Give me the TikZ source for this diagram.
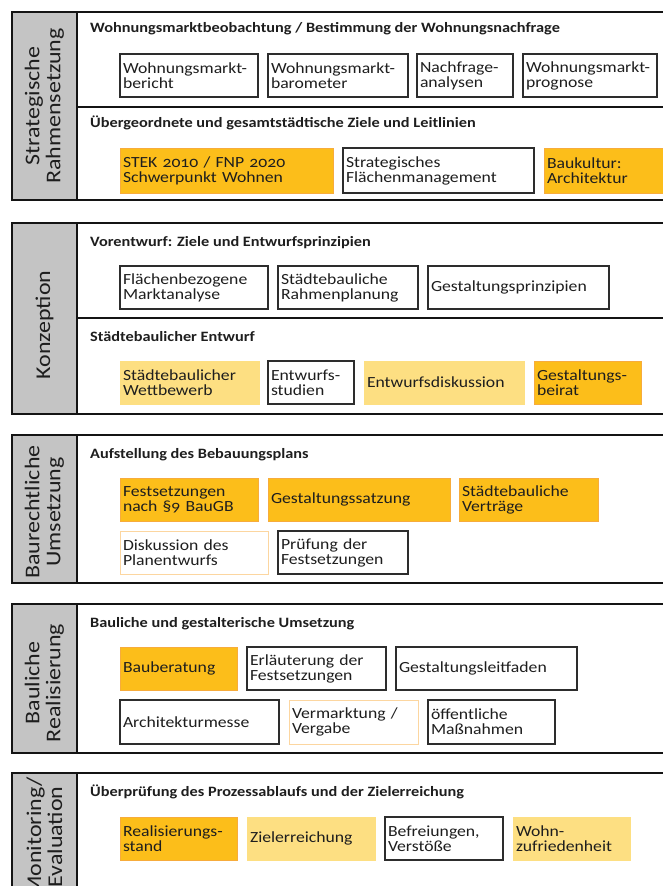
\documentclass[tikz,border=0pt]{standalone}
\usepackage{fontspec}
\newfontfamily\dfont{Carlito}[FakeStretch=1.14, Numbers=OldStyle]
\definecolor{colgray}{RGB}{196,196,196}
\definecolor{framec}{RGB}{20,20,20}
\definecolor{boxline}{RGB}{45,45,45}
\definecolor{textc}{RGB}{30,30,30}
\definecolor{orangeF}{RGB}{252,190,26}
\definecolor{orangeE}{RGB}{247,172,60}
\definecolor{yellowF}{RGB}{253,223,130}
\definecolor{paleE}{RGB}{252,214,160}

% box with its corners given in pixel units: name, style, x1, y1, x2, y2, text
\newcommand{\bx}[7]{%
  \pgfmathsetmacro{\bxw}{#5-#3}%
  \pgfmathsetmacro{\bxh}{#6-#4}%
  \pgfmathsetmacro{\bxt}{#5-#3-6}%
  \node[#2, anchor=north west, minimum width=\bxw pt, minimum height=\bxh pt,
        text width=\bxt pt] (#1) at (#3,#4) {#7};}

\begin{document}
\begin{tikzpicture}[x=1pt, y=-1pt,
  frame/.style={draw=framec, line width=2.8pt},
  divider/.style={draw=framec, line width=2.4pt},
  column/.style={fill=colgray},
  sidelabel/.style={rotate=90, align=center, inner sep=0pt, text=textc,
    font={\dfont\fontsize{21}{21}\selectfont}},
  head/.style={anchor=base west, inner sep=0pt, text=textc,
    font={\dfont\bfseries\fontsize{14.3}{16}\selectfont}},
  basebox/.style={inner xsep=3pt, inner ysep=0pt, outer sep=0pt, align=left,
    text=textc, font={\dfont\fontsize{15.5}{15}\selectfont}},
  box/.style={basebox, draw=boxline, line width=1.2pt, fill=white},
  obox/.style={basebox, draw=orangeE, line width=0.8pt, fill=orangeF},
  ybox/.style={basebox, draw=yellowF, line width=0.8pt, fill=yellowF},
  pbox/.style={basebox, draw=paleE, line width=1pt, fill=white},
]
\useasboundingbox (0,0) rectangle (663,886);
\clip (0,0) rectangle (663,886);
\fill[white] (0,0) rectangle (663,886);

% ---- panel frames -------------------------------------------------------
\foreach \t/\b in {12/200, 223/414, 435/583, 604/753, 773/903}{
  \fill[column] (12,\t) rectangle (77,\b);
  \draw[frame] (12,\t) rectangle (667,\b);
  \draw[frame] (77,\t) -- (77,\b);
}
\draw[divider] (77,107) -- (667,107);
\draw[divider] (77,318) -- (667,318);

% ---- phase labels ------------------------------------------------------
\node[sidelabel] (lab1) at (44.5,106) {Strategische\\Rahmensetzung};
\node[sidelabel] (lab2) at (44.5,325) {Konzeption};
\node[sidelabel] (lab3) at (44.5,512) {Baurechtliche\\Umsetzung};
\node[sidelabel] (lab4) at (44.5,683) {Bauliche\\Realisierung};
\node[sidelabel] (lab5) at (44.5,837) {Monitoring/\\Evaluation};

% ---- section headings ----------------------------------------------------
\node[head] (h1) at (90,32) {Wohnungsmarktbeobachtung / Bestimmung der Wohnungsnachfrage};
\node[head] (h2) at (90,127) {Übergeordnete und gesamtstädtische Ziele und Leitlinien};
\node[head] (h3) at (90,246) {Vorentwurf: Ziele und Entwurfsprinzipien};
\node[head] (h4) at (90,341) {Städtebaulicher Entwurf};
\node[head] (h5) at (90,458) {Aufstellung des Bebauungsplans};
\node[head] (h6) at (90,627) {Bauliche und gestalterische Umsetzung};
\node[head] (h7) at (90,796) {Überprüfung des Prozessablaufs und der Zielerreichung};

% ---- Strategische Rahmensetzung ------------------------------------------
\bx{b11}{box}{120}{54}{258}{97}{Wohnungsmarkt-\\bericht}
\bx{b12}{box}{268}{54}{408}{97}{Wohnungsmarkt-\\barometer}
\bx{b13}{box}{417}{54}{513}{97}{Nachfrage-\\analysen}
\bx{b14}{box}{523}{54}{657}{97}{Wohnungsmarkt-\\prognose}
\bx{b21}{obox}{120}{148}{333}{193}{STEK 2010 / FNP 2020\\Schwerpunkt Wohnen}
\bx{b22}{box}{343}{148}{534}{193}{Strategisches\\Flächenmanagement}
\bx{b23}{obox}{544}{148}{667}{193}{Baukultur:\\Architektur}

% ---- Konzeption ----------------------------------------------------------
\bx{c11}{box}{120}{266}{268}{309}{Flächenbezogene\\Marktanalyse}
\bx{c12}{box}{278}{266}{418}{309}{Städtebauliche\\Rahmenplanung}
\bx{c13}{box}{428}{266}{609}{309}{Gestaltungsprinzipien}
\bx{c21}{ybox}{120}{361}{259}{404}{Städtebaulicher\\Wettbewerb}
\bx{c22}{box}{268}{361}{354}{404}{Entwurfs-\\studien}
\bx{c23}{ybox}{364}{361}{524}{404}{Entwurfsdiskussion}
\bx{c24}{obox}{534}{361}{641}{404}{Gestaltungs-\\beirat}

% ---- Baurechtliche Umsetzung ---------------------------------------------
\bx{d11}{obox}{120}{478}{258}{521}{Festsetzungen\\nach §9 BauGB}
\bx{d12}{obox}{268}{478}{450}{521}{Gestaltungssatzung}
\bx{d13}{obox}{459}{478}{598}{521}{Städtebauliche\\Verträge}
\bx{d21}{pbox}{120}{531}{268}{574}{Diskussion des\\Planentwurfs}
\bx{d22}{box}{278}{531}{408}{574}{Prüfung der\\Festsetzungen}

% ---- Bauliche Realisierung -----------------------------------------------
\bx{e11}{obox}{120}{647}{237}{690}{Bauberatung}
\bx{e12}{box}{247}{647}{386}{690}{Erläuterung der\\Festsetzungen}
\bx{e13}{box}{396}{647}{577}{690}{Gestaltungsleitfaden}
\bx{e21}{box}{120}{700}{279}{744}{Architekturmesse}
\bx{e22}{pbox}{289}{700}{418}{744}{Vermarktung /\\Vergabe}
\bx{e23}{box}{428}{700}{555}{744}{öffentliche\\Maßnahmen}

% ---- Monitoring / Evaluation ---------------------------------------------
\bx{f11}{obox}{120}{817}{237}{860}{Realisierungs-\\stand}
\bx{f12}{ybox}{247}{817}{375}{860}{Zielerreichung}
\bx{f13}{box}{385}{817}{503}{860}{Befreiungen,\\Verstöße}
\bx{f14}{ybox}{513}{817}{630}{860}{Wohn-\\zufriedenheit}
\end{tikzpicture}
\end{document}
